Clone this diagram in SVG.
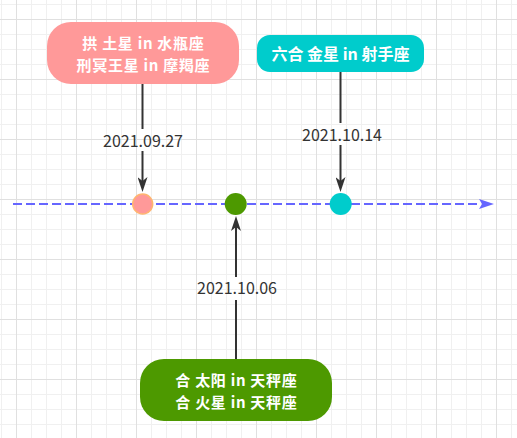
<svg xmlns="http://www.w3.org/2000/svg" width="517" height="438" viewBox="0 0 517 438">
<style>
.box-text{font-family:"Noto Sans CJK SC","Liberation Sans",sans-serif;font-size:16px;font-weight:bold;fill:#ffffff;text-anchor:middle}
.box-text2{font-family:"Noto Sans CJK SC","Liberation Sans",sans-serif;font-size:15px;letter-spacing:0.7px;font-weight:bold;fill:#ffffff;text-anchor:middle}
.label{font-family:"Noto Sans CJK SC","Liberation Sans",sans-serif;font-size:16px;fill:#333333;text-anchor:middle}
.conn{stroke:#333333;stroke-width:2;fill:none}
.timeline{stroke:#6666FF;stroke-width:2;fill:none;stroke-dasharray:9 4}
</style>
<defs>
<pattern id="minor" x="1" y="4" width="15" height="15" patternUnits="userSpaceOnUse">
<path d="M0.5 0V15M0 0.5H15" stroke="#f0f0f0" stroke-width="1" fill="none"/>
</pattern>
<pattern id="major" x="16" y="19" width="60" height="60" patternUnits="userSpaceOnUse">
<path d="M0.5 0V60M0 0.5H60" stroke="#e0e0e0" stroke-width="1" fill="none"/>
</pattern>
<marker id="arr" viewBox="0 0 15 10" markerWidth="15" markerHeight="10" refX="4" refY="5" orient="auto" markerUnits="userSpaceOnUse">
<path d="M0 0L15 5L0 10L4 5Z" fill="#333333"/>
</marker>
<marker id="arrBlue" viewBox="0 0 15 10" markerWidth="15" markerHeight="10" refX="2" refY="5" orient="auto" markerUnits="userSpaceOnUse">
<path d="M0 0L15 5L0 10L3 5Z" fill="#6666FF"/>
</marker>
</defs>
<rect width="517" height="438" fill="#ffffff"/>
<rect width="517" height="438" fill="url(#minor)"/>
<rect width="517" height="438" fill="url(#major)"/>

<g id="connectors">
<path class="timeline" d="M13 204H481" marker-end="url(#arrBlue)"/>
<path class="conn" d="M142.5 84V129"/>
<path class="conn" d="M142.5 151V181" marker-end="url(#arr)"/>
<path class="conn" d="M340.5 72V123"/>
<path class="conn" d="M340.5 145V181" marker-end="url(#arr)"/>
<path class="conn" d="M236 359V300"/>
<path class="conn" d="M236 277V227" marker-end="url(#arr)"/>
<text class="label" x="143" y="146.5">2021.09.27</text>
<text class="label" x="342" y="140.5">2021.10.14</text>
<text class="label" x="237" y="294">2021.10.06</text>
</g>

<g id="dot-pink">
<circle cx="142.7" cy="204" r="10" fill="#FF9999" stroke="#FFB570" stroke-width="1.5"/>
</g>
<g id="dot-green">
<circle cx="235.7" cy="204" r="11" fill="#4D9900"/>
</g>
<g id="dot-cyan">
<circle cx="340.7" cy="204" r="11" fill="#00CCCC"/>
</g>

<g id="box-pink">
<rect x="47" y="22" width="192" height="62" rx="24" ry="24" fill="#FF9999"/>
<text class="box-text2"><tspan x="143.4" y="49">拱 土星 in 水瓶座</tspan><tspan x="143.4" y="71">刑冥王星 in 摩羯座</tspan></text>
</g>
<g id="box-cyan">
<rect x="257" y="35" width="167" height="37" rx="13" ry="13" fill="#00CCCC"/>
<text class="box-text" x="340.5" y="60">六合 金星 in 射手座</text>
</g>
<g id="box-green">
<rect x="140" y="359" width="192" height="62" rx="24" ry="24" fill="#4D9900"/>
<text class="box-text2"><tspan x="236.4" y="385.5">合 太阳 in 天秤座</tspan><tspan x="236.4" y="407.5">合 火星 in 天秤座</tspan></text>
</g>
</svg>
